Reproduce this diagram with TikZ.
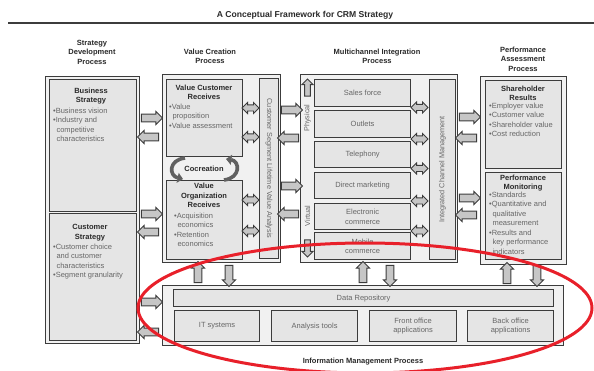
\documentclass[tikz,border=0pt]{standalone}
\usepackage{fontspec}
\setmainfont{Liberation Sans}
\usetikzlibrary{shapes.arrows,shapes.geometric,arrows.meta}

\definecolor{boxline}{HTML}{3C3C3C}
\definecolor{outerfill}{HTML}{F1F1F1}
\definecolor{innerfill}{HTML}{E5E5E5}
\definecolor{arrowfill}{HTML}{C6C6C6}
\definecolor{headtext}{HTML}{2A2A2A}
\definecolor{bodytext}{HTML}{666666}
\definecolor{markred}{HTML}{E8202A}

\tikzset{
  outerbox/.style={draw=boxline, fill=outerfill, line width=1.2pt, anchor=north west, inner sep=0pt},
  innerbox/.style={draw=boxline, fill=innerfill, line width=1.2pt, anchor=north west, inner sep=0pt},
  headtxt/.style={font=\fontsize{7.5}{9.5}\selectfont\bfseries, text=headtext, align=center, inner sep=0pt},
  bodytxt/.style={font=\fontsize{7.5}{9.5}\selectfont, text=bodytext, align=left, inner sep=0pt, anchor=north west},
  chantxt/.style={font=\fontsize{7.5}{9.5}\selectfont, text=bodytext, align=center, inner sep=0pt},
  bartxt/.style={font=\fontsize{7.3}{9}\selectfont, text=bodytext, inner sep=0pt},
  blockarrow/.style={single arrow, draw=boxline, fill=arrowfill, line width=0.9pt,
    minimum height=21pt, minimum width=12.5pt, inner sep=3.4pt,
    single arrow head extend=2.7pt},
  rightarr/.style={blockarrow},
  leftarr/.style={blockarrow, shape border rotate=180},
  uparr/.style={blockarrow, shape border rotate=90},
  downarr/.style={blockarrow, shape border rotate=270},
  smallup/.style={uparr, minimum height=17pt, minimum width=10pt, inner sep=2.4pt},
  smalldown/.style={downarr, minimum height=17pt, minimum width=10pt, inner sep=2.4pt},
  twoway/.style={double arrow, draw=boxline, fill=arrowfill, line width=0.9pt,
    minimum height=17pt, minimum width=11pt, inner sep=2.6pt,
    double arrow head extend=2.5pt},
  cocarrow/.style={draw=black!62, line width=3.6pt,
    -{Triangle[width=10pt,length=5.5pt]}},
  redline/.style={draw=markred, line width=3pt}
}

\begin{document}
\begin{tikzpicture}[x=1pt,y=-1pt]
\useasboundingbox[fill=white] (0,0) rectangle (594,371);

% title and rule
\node[headtxt, font=\fontsize{8.6}{10}\selectfont\bfseries] (title) at (305,15) {A Conceptual Framework for CRM Strategy};
\coordinate (ruleL) at (8,23);
\coordinate (ruleR) at (594,23);
\draw[boxline, line width=1.5pt] (ruleL) -- (ruleR);

% column headings
\node[headtxt] (hStrat) at (92,52) {Strategy\\Development\\Process};
\node[headtxt] (hValue) at (210,56.5) {Value Creation\\Process};
\node[headtxt] (hMulti) at (377,56.5) {Multichannel Integration\\Process};
\node[headtxt] (hPerf)  at (523,59) {Performance\\Assessment\\Process};

% ---- Strategy development
\node[outerbox, minimum width=94pt, minimum height=267pt] (strat) at (45,76) {};
\node[innerbox, minimum width=87pt, minimum height=132pt] (bus) at (49,79) {};
\node[innerbox, minimum width=87pt, minimum height=127pt] (cust) at (49,213) {};
\node[headtxt, anchor=north] (busH) at (91,87.5) {Business\\Strategy};
\node[bodytxt] (busB) at (53,107.5) {•Business vision\\•Industry and\\\ \,competitive\\\ \,characteristics};
\node[headtxt, anchor=north] (custH) at (90,224.5) {Customer\\Strategy};
\node[bodytxt] (custB) at (53,243.5) {•Customer choice\\\ \,and customer\\\ \,characteristics\\•Segment granularity};

% ---- Value creation
\node[outerbox, minimum width=118pt, minimum height=188pt] (vc) at (162,74) {};
\node[innerbox, minimum width=76pt, minimum height=77pt] (vcr) at (166,79) {};
\node[innerbox, minimum width=76pt, minimum height=79pt] (vor) at (166,180) {};
\node[innerbox, minimum width=19pt, minimum height=180pt] (cslva) at (259,78) {};
\node[headtxt, anchor=north] (vcrH) at (204,84.5) {Value Customer\\Receives};
\node[bodytxt] (vcrB) at (169,103.5) {•Value\\\ \,proposition\\•Value assessment};
\node[headtxt, anchor=north] (vorH) at (204,183) {Value\\Organization\\Receives};
\node[bodytxt] (vorB) at (174,212.5) {•Acquisition\\\ \,economics\\•Retention\\\ \,economics};
\node[bartxt, rotate=-90] (cslvaT) at (cslva.center) {Customer Segment Lifetime Value Analysis};

% cocreation
\node[headtxt] (coc) at (204,169) {Cocreation};
\coordinate (cocLa) at (185,158);
\coordinate (cocLb) at (183,179);
\coordinate (cocRa) at (224,180);
\coordinate (cocRb) at (226,159);
\draw[cocarrow] (cocLa) .. controls (168,160) and (169,176) .. (cocLb);
\draw[cocarrow] (cocRa) .. controls (241,178) and (240,161) .. (cocRb);

% ---- Multichannel integration
\node[outerbox, minimum width=157pt, minimum height=188pt] (mc) at (300,74) {};
\node[innerbox, minimum width=96pt, minimum height=27pt] (ch1) at (314,79) {};
\node[innerbox, minimum width=96pt, minimum height=27pt] (ch2) at (314,110) {};
\node[innerbox, minimum width=96pt, minimum height=26pt] (ch3) at (314,141) {};
\node[innerbox, minimum width=96pt, minimum height=26pt] (ch4) at (314,172) {};
\node[innerbox, minimum width=96pt, minimum height=26pt] (ch5) at (314,203) {};
\node[innerbox, minimum width=96pt, minimum height=27pt] (ch6) at (314,232) {};
\node[chantxt] (ch1T) at (ch1.center) {Sales force};
\node[chantxt] (ch2T) at (ch2.center) {Outlets};
\node[chantxt] (ch3T) at (ch3.center) {Telephony};
\node[chantxt] (ch4T) at (ch4.center) {Direct marketing};
\node[chantxt] (ch5T) at (ch5.center) {Electronic\\commerce};
\node[chantxt] (ch6T) at (ch6.center) {Mobile\\commerce};
\node[innerbox, minimum width=26pt, minimum height=180pt] (icm) at (429,79) {};
\node[bartxt, rotate=90] (icmT) at (icm.center) {Integrated Channel Management};
\node[bartxt, rotate=90] (phys) at (307.5,118) {Physical};
\node[bartxt, rotate=90] (virt) at (307.5,216) {Virtual};
\node[smallup] (physA) at (307.5,89) {};
\node[smalldown] (virtA) at (307.5,247) {};

% ---- Performance assessment
\node[outerbox, minimum width=86pt, minimum height=188pt] (pa) at (480,76) {};
\node[innerbox, minimum width=76pt, minimum height=88pt] (sr) at (485,80) {};
\node[innerbox, minimum width=76pt, minimum height=87pt] (pm) at (485,172) {};
\node[headtxt, anchor=north] (srH) at (523,85.5) {Shareholder\\Results};
\node[bodytxt] (srB) at (489,102.5) {•Employer value\\•Customer value\\•Shareholder value\\•Cost reduction};
\node[headtxt, anchor=north] (pmH) at (523,174.5) {Performance\\Monitoring};
\node[bodytxt] (pmB) at (489,191.5) {•Standards\\•Quantitative and\\\ \,qualitative\\\ \,measurement\\•Results and\\\ \,key performance\\\ \,indicators};

% ---- Information management
\node[outerbox, minimum width=401pt, minimum height=60pt] (im) at (162,285) {};
\node[innerbox, minimum width=380pt, minimum height=17pt] (dr) at (173,289) {};
\node[chantxt] (drT) at (dr.center) {Data Repository};
\node[innerbox, minimum width=85pt, minimum height=31pt] (its) at (174,310) {};
\node[innerbox, minimum width=86pt, minimum height=31pt] (ant) at (271,310) {};
\node[innerbox, minimum width=87pt, minimum height=31pt] (foa) at (369,310) {};
\node[innerbox, minimum width=86pt, minimum height=31pt] (boa) at (467,310) {};
\node[chantxt] (itsT) at (its.center) {IT systems};
\node[chantxt] (antT) at (ant.center) {Analysis tools};
\node[chantxt] (foaT) at (foa.center) {Front office\\applications};
\node[chantxt] (boaT) at (boa.center) {Back office\\applications};
\node[headtxt] (imT) at (363,362) {Information Management Process};

% ---- block arrows between the processes
\node[rightarr] (a1) at (150,118) {};
\node[leftarr]  (a2) at (150,137) {};
\node[rightarr] (a3) at (150,214) {};
\node[leftarr]  (a4) at (150,232) {};
\node[rightarr] (a5) at (150,302) {};
\node[leftarr]  (a6) at (150,332) {};

\node[rightarr] (b1) at (290,110) {};
\node[leftarr]  (b2) at (290,138) {};
\node[rightarr] (b3) at (290,186) {};
\node[leftarr]  (b4) at (290,214) {};

\node[rightarr] (c1) at (468,117) {};
\node[leftarr]  (c2) at (468,138) {};
\node[rightarr] (c3) at (468,198) {};
\node[leftarr]  (c4) at (468,215) {};

\node[uparr]   (d1) at (198,274) {};
\node[downarr] (d2) at (229,274) {};
\node[uparr]   (d3) at (363,274) {};
\node[downarr] (d4) at (390,274) {};
\node[uparr]   (d5) at (507,275) {};
\node[downarr] (d6) at (537,274) {};

% two-way arrows to the analysis bars
\node[twoway] (e1) at (250.5,108) {};
\node[twoway] (e2) at (250.5,137) {};
\node[twoway] (e3) at (250.5,200) {};
\node[twoway] (e4) at (250.5,231) {};

\node[twoway] (f1) at (419.5,107.5) {};
\node[twoway] (f2) at (419.5,139) {};
\node[twoway] (f3) at (419.5,168.5) {};
\node[twoway] (f4) at (419.5,201) {};
\node[twoway] (f5) at (419.5,231) {};

% red emphasis ring
\node[redline, ellipse, minimum width=454pt, minimum height=130pt, inner sep=0pt] (ring) at (365,308) {};
\end{tikzpicture}
\end{document}
